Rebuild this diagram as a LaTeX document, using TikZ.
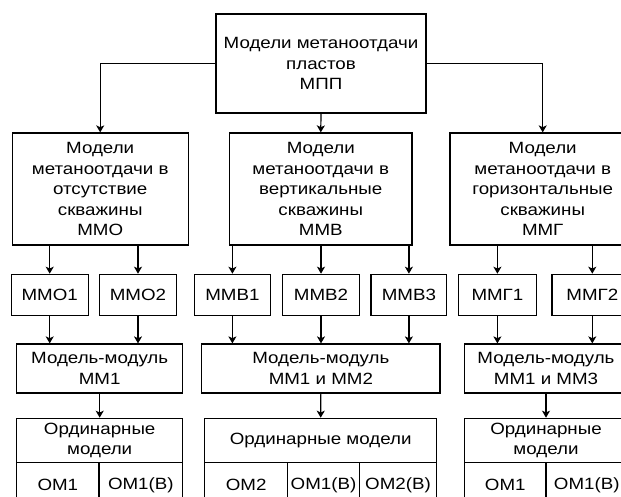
\documentclass[tikz,border=0pt]{standalone}
\usepackage{fontspec}
\setmainfont{Liberation Sans}[FakeStretch=1.15]
\usetikzlibrary{arrows.meta}
\begin{document}
\begin{tikzpicture}[x=1pt,y=-1pt,
  box/.style={draw, line width=1.2pt, align=center, inner sep=0pt,
    font=\fontsize{16.3}{20.5}\selectfont},
  arr/.style={line width=1.2pt, -{Stealth[length=7pt,width=8pt,inset=1.8pt]}}]
\useasboundingbox (0,0) rectangle (621,497);
\clip (0,0) rectangle (621,497);
% level 1
\node[box, minimum width=210pt, minimum height=99pt] (A) at (321,63.5) {Модели метаноотдачи\\пластов\\МПП};
% level 2
\node[box, minimum width=176pt, minimum height=112pt] (B1) at (100.2,189) {Модели\\метаноотдачи в\\отсутствие\\скважины\\ММО};
\node[box, minimum width=182.5pt, minimum height=112pt] (B2) at (320.75,189) {Модели\\метаноотдачи в\\вертикальные\\скважины\\ММВ};
\node[box, minimum width=185.4pt, minimum height=112pt] (B3) at (542.7,189) {Модели\\метаноотдачи в\\горизонтальные\\скважины\\ММГ};
% level 3
\node[box, minimum width=77pt, minimum height=41.2pt] (C1) at (49.7,294.9) {ММО1};
\node[box, minimum width=77.7pt, minimum height=41.2pt] (C2) at (138,294.9) {ММО2};
\node[box, minimum width=76.4pt, minimum height=41.2pt] (C3) at (232.4,294.9) {ММВ1};
\node[box, minimum width=77.3pt, minimum height=41.2pt] (C4) at (321,294.9) {ММВ2};
\node[box, minimum width=75.7pt, minimum height=41.2pt] (C5) at (408.9,294.9) {ММВ3};
\node[box, minimum width=77.7pt, minimum height=41.2pt] (C6) at (497.4,294.9) {ММГ1};
\node[box, minimum width=80.6pt, minimum height=41.2pt] (C7) at (592.3,294.9) {ММГ2};
% level 4
\node[box, minimum width=166pt, minimum height=49pt] (D1) at (99.7,368.5) {Модель-модуль\\ММ1};
\node[box, minimum width=238.3pt, minimum height=49pt] (D2) at (320.85,368.5) {Модель-модуль\\ММ1 и ММ2};
\node[box, minimum width=163pt, minimum height=49pt] (D3) at (546,368.5) {Модель-модуль\\ММ1 и ММ3};
% level 5
\node[box, minimum width=166pt, minimum height=44.4pt] (E1) at (99.7,440.5) {Ординарные\\модели};
\node[box, minimum width=232pt, minimum height=44.4pt] (E2) at (320.7,440.5) {Ординарные модели};
\node[box, minimum width=163pt, minimum height=44.4pt] (E3) at (546,440.5) {Ординарные\\модели};
% bottom row
\node[box, minimum width=82.3pt, minimum height=44.3pt] (F1) at (57.85,484.85) {ОМ1};
\node[box, minimum width=83.7pt, minimum height=44.3pt] (F2) at (140.85,484.85) {ОМ1(В)};
\node[box, minimum width=83pt, minimum height=44.3pt] (F3) at (246.2,484.85) {ОМ2};
\node[box, minimum width=71.6pt, minimum height=44.3pt] (F4) at (323.5,484.85) {ОМ1(В)};
\node[box, minimum width=77.4pt, minimum height=44.3pt] (F5) at (398,484.85) {ОМ2(В)};
\node[box, minimum width=81.5pt, minimum height=44.3pt] (F6) at (505.25,484.85) {ОМ1};
\node[box, minimum width=81.5pt, minimum height=44.3pt] (F7) at (586.75,484.85) {ОМ1(В)};
% connectors level 1 -> 2
\draw[arr] (A.west) -| (B1.north);
\draw[arr] (A.south) -- (B2.north);
\draw[arr] (A.east) -| (B3.north);
% level 2 -> 3
\foreach \c/\b in {C1/B1,C2/B1,C3/B2,C4/B2,C5/B2,C6/B3,C7/B3}
  \draw[arr] (\c.north |- \b.south) -- (\c.north);
% level 3 -> 4
\foreach \c/\d in {C1/D1,C2/D1,C3/D2,C4/D2,C5/D2,C6/D3,C7/D3}
  \draw[arr] (\c.south) -- (\c.south |- \d.north);
% level 4 -> 5
\draw[arr] (D1.south) -- (E1.north);
\draw[arr] (D2.south) -- (E2.north);
\draw[arr] (D3.south) -- (E3.north);
\end{tikzpicture}
\end{document}
